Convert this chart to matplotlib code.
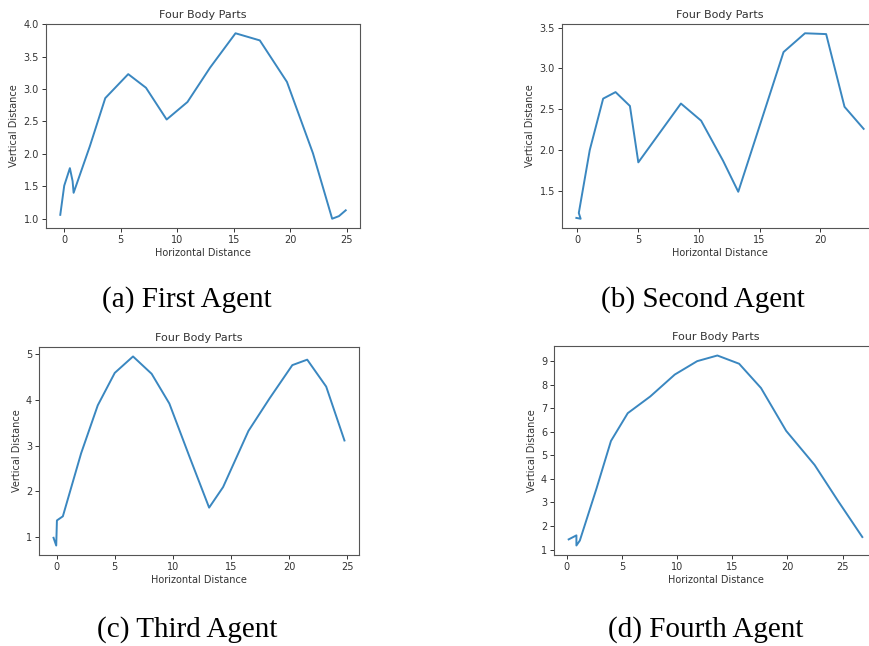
import matplotlib.pyplot as plt
import numpy as np

# panel data
x_first = [-0.35, 0.0, 0.5, 0.74, 0.83, 2.27, 3.63, 5.66, 7.23, 9.06, 10.9, 12.9, 15.15, 17.3, 19.7, 22.0, 23.7, 24.3, 24.9]
y_first = [1.06, 1.51, 1.78, 1.58, 1.40, 2.12, 2.86, 3.23, 3.02, 2.53, 2.80, 3.33, 3.86, 3.75, 3.11, 2.01, 1.0, 1.04, 1.13]

x_second = [-0.05, 0.3, 0.15, 1.05, 2.15, 3.17, 4.35, 5.04, 8.54, 10.2, 12.0, 13.25, 15.1, 16.97, 18.73, 20.47, 21.98, 23.55]
y_second = [1.17, 1.16, 1.23, 2.0, 2.63, 2.71, 2.54, 1.85, 2.57, 2.36, 1.87, 1.49, 2.34, 3.20, 3.43, 3.42, 2.53, 2.26]

x_third = [-0.26, -0.03, 0.03, 0.54, 2.11, 3.54, 5.0, 6.57, 8.17, 9.69, 11.4, 13.11, 14.31, 16.49, 18.3, 20.26, 21.54, 23.17, 24.74]
y_third = [0.98, 0.81, 1.36, 1.45, 2.83, 3.88, 4.59, 4.95, 4.57, 3.92, 2.77, 1.64, 2.09, 3.32, 4.03, 4.76, 4.88, 4.29, 3.11]

x_fourth = [0.18, 0.88, 0.88, 1.19, 2.7, 4.01, 5.53, 7.57, 9.79, 11.82, 13.65, 15.62, 17.6, 19.88, 22.46, 24.6, 26.78]
y_fourth = [1.43, 1.60, 1.17, 1.38, 3.59, 5.61, 6.79, 7.5, 8.43, 9.0, 9.24, 8.89, 7.86, 6.04, 4.59, 3.05, 1.53]

captions = ['(a) First Agent', '(b) Second Agent', '(c) Third Agent', '(d) Fourth Agent']

W, H = 869, 646
fig = plt.figure(figsize=(W / 100, H / 100), dpi=100)

# axes boxes in pixels: left, right, top, bottom
boxes = [(46, 360, 24, 228), (562, 878, 24, 228), (39, 359, 347, 555), (554, 877, 346, 555)]
cap_pos = [(187, 300), (703, 300), (187, 630), (706, 630)]
series = [(x_first, y_first), (x_second, y_second), (x_third, y_third), (x_fourth, y_fourth)]

for (l, r, t, b), (xs, ys), cap, (cx, cy) in zip(boxes, series, captions, cap_pos):
    ax = fig.add_axes([l / W, (H - b) / H, (r - l) / W, (b - t) / H])
    ax.plot(xs, ys, color='#3a87c0', lw=1.4)
    ax.set_title('Four Body Parts', fontsize=8, color='#333333', pad=4)
    ax.set_xlabel('Horizontal Distance', fontsize=7, color='#333333', labelpad=2)
    ax.set_ylabel('Vertical Distance', fontsize=7, color='#333333', labelpad=3)
    ax.tick_params(labelsize=7, colors='#333333', length=3, width=0.7, pad=2)
    for s in ax.spines.values():
        s.set_color('#555555')
        s.set_linewidth(0.8)
    fig.text(cx / W, 1 - cy / H, cap, fontsize=21, family='Liberation Serif',
             ha='center', va='center', color='black')

ax_list = fig.axes
ax_list[0].set_yticks(np.arange(1.0, 4.01, 0.5))
ax_list[1].set_yticks(np.arange(1.5, 3.51, 0.5))
ax_list[1].set_xticks([0, 5, 10, 15, 20])
ax_list[2].set_yticks([1, 2, 3, 4, 5])
ax_list[3].set_yticks(range(1, 10))

fig.savefig('out.png', dpi=100)
